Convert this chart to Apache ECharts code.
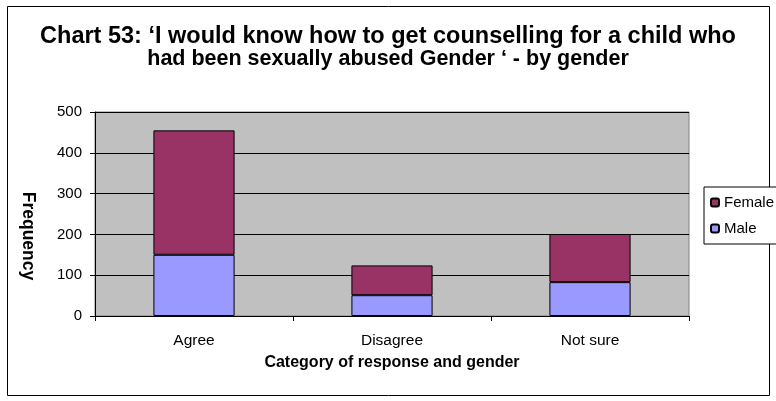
<!DOCTYPE html>
<html>
<head>
<meta charset="utf-8">
<script src="https://cdn.jsdelivr.net/npm/echarts@6/dist/echarts.min.js"></script>
<style>
html,body{margin:0;padding:0;background:#fff;}
#chart{width:776px;height:401px;}
</style>
</head>
<body>
<div id="chart"></div>
<script>
var categories = ['Agree', 'Disagree', 'Not sure'];
var maleValues = [150, 51, 83];
var femaleValues = [305, 73, 118];
var seriesNames = ['Female', 'Male'];
var titleLines = [
  'Chart 53: \u2018I would know how to get counselling for a child who',
  'had been sexually abused Gender \u2018 - by gender'
];
var yAxisName = 'Frequency';
var xAxisName = 'Category of response and gender';

var FONT = '"Liberation Sans", Arial, sans-serif';
var chart = echarts.init(document.getElementById('chart'), null, {renderer: 'canvas'});
chart.setOption({
  animation: false,
  backgroundColor: '#ffffff',
  textStyle: {fontFamily: FONT},
  graphic: [{
    type: 'rect',
    shape: {x: 7.5, y: 6.5, width: 762, height: 389},
    style: {fill: 'none', stroke: '#000', lineWidth: 1},
    silent: true
  }],
  title: [
    {
      text: titleLines[0],
      left: 'center',
      top: 20,
      textStyle: {fontFamily: FONT, fontSize: 23.5, fontWeight: 'bold', color: '#000'}
    },
    {
      text: titleLines[1],
      left: 'center',
      top: 43,
      textStyle: {fontFamily: FONT, fontSize: 21.5, fontWeight: 'bold', color: '#000'}
    }
  ],
  legend: {
    data: seriesNames,
    orient: 'vertical',
    left: 704,
    top: 187,
    itemWidth: 8,
    itemHeight: 8,
    itemGap: 11,
    padding: [8, 20, 8, 6],
    borderColor: '#000',
    borderWidth: 1,
    backgroundColor: '#fff',
    textStyle: {fontFamily: FONT, fontSize: 15, color: '#000'}
  },
  grid: {
    left: 95, right: 87, top: 112, bottom: 85,
    show: true, backgroundColor: '#C0C0C0', borderColor: '#808080', borderWidth: 1,
    containLabel: false
  },
  xAxis: {
    type: 'category',
    data: categories,
    boundaryGap: true,
    name: xAxisName,
    nameLocation: 'middle',
    nameGap: 39,
    nameTextStyle: {fontFamily: FONT, fontSize: 16, fontWeight: 'bold', color: '#000'},
    axisLine: {lineStyle: {color: '#000', width: 1}},
    axisTick: {show: true, length: 5, alignWithLabel: false, lineStyle: {color: '#000'}},
    axisLabel: {fontFamily: FONT, fontSize: 15.5, color: '#000', margin: 17}
  },
  yAxis: {
    type: 'value',
    min: 0, max: 500, interval: 100,
    name: yAxisName,
    nameLocation: 'middle',
    nameGap: 58,
    nameRotate: -90,
    nameTextStyle: {fontFamily: FONT, fontSize: 17.5, fontWeight: 'bold', color: '#000', padding: [0, 0, 0, 44]},
    axisLine: {show: true, lineStyle: {color: '#000', width: 1}},
    axisTick: {show: true, length: 5, lineStyle: {color: '#000'}},
    axisLabel: {fontFamily: FONT, fontSize: 15, color: '#000', margin: 13},
    splitLine: {show: true, lineStyle: {color: '#000', width: 1}}
  },
  series: [
    {
      name: 'Male', type: 'bar', stack: 'total', data: maleValues,
      barWidth: '41%',
      itemStyle: {color: '#9999FF', borderColor: '#000', borderWidth: 1}
    },
    {
      name: 'Female', type: 'bar', stack: 'total', data: femaleValues,
      barWidth: '41%',
      itemStyle: {color: '#993366', borderColor: '#000', borderWidth: 1}
    }
  ]
});
</script>
</body>
</html>
